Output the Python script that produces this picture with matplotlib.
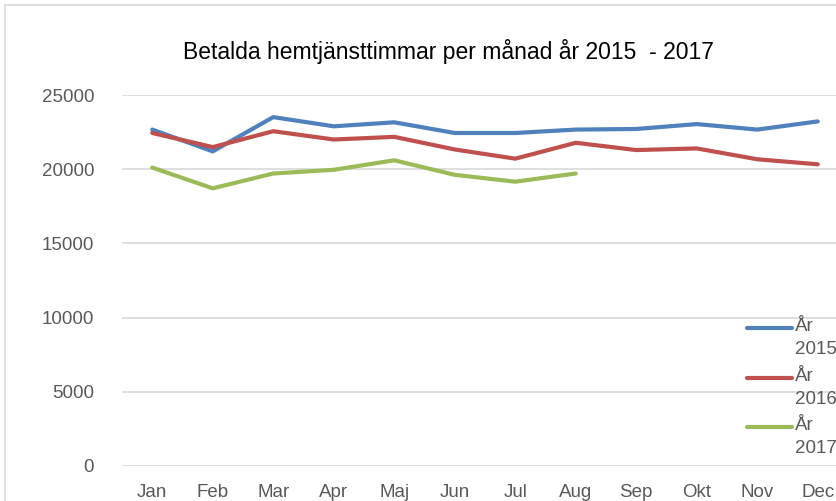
import matplotlib.pyplot as plt
from matplotlib.lines import Line2D
from matplotlib.patches import Rectangle

months = ['Jan', 'Feb', 'Mar', 'Apr', 'Maj', 'Jun', 'Jul', 'Aug', 'Sep', 'Okt', 'Nov', 'Dec']
ar_2015 = [22670, 21200, 23510, 22890, 23160, 22440, 22440, 22670, 22710, 23040, 22670, 23220]
ar_2016 = [22440, 21490, 22560, 22000, 22180, 21330, 20710, 21780, 21290, 21400, 20670, 20330]
ar_2017 = [20110, 18710, 19710, 19960, 20600, 19620, 19160, 19710]
series_labels = ['År\n2015', 'År\n2016', 'År\n2017']
colors = ['#4F81BD', '#C0504D', '#9BBB59']
yticks = [0, 5000, 10000, 15000, 20000, 25000]

plt.rcParams['font.family'] = ['Liberation Sans', 'DejaVu Sans']

W, H = 836, 501
fig = plt.figure(figsize=(W / 100, H / 100), dpi=100)

# outer chart border (partly cut off on right/bottom)
fig.add_artist(Rectangle((5 / W, -0.1), 1.2, 1 - 5 / H + 0.1, transform=fig.transFigure,
                         fill=False, edgecolor='#D9D9D9', linewidth=1.2))

ax = fig.add_axes([122 / W, 1 - 466 / H, (848 - 122) / W, (466 - 95) / H])

x = list(range(len(months)))
for vals, c in zip([ar_2015, ar_2016, ar_2017], colors):
    ax.plot(x[:len(vals)], vals, color=c, linewidth=3.0, solid_capstyle='round',
            solid_joinstyle='round', zorder=3)

ax.set_xlim(-0.5, 11.5)
ax.set_ylim(0, 25000)
ax.set_xticks(x)
ax.set_xticklabels(months)
ax.set_yticks(yticks)
ax.set_yticklabels([str(v) for v in yticks])
ax.tick_params(length=0, colors='#595959', labelsize=13.5)
ax.tick_params(axis='y', pad=20)
ax.tick_params(axis='x', pad=13)
ax.grid(axis='y', color='#D9D9D9', linewidth=1.2)
ax.set_axisbelow(True)
for s in ax.spines.values():
    s.set_visible(False)

fig.text(448 / W, 1 - 52 / H, 'Betalda hemtjänsttimmar per månad år 2015  - 2017',
         ha='center', va='center', fontsize=16.5, color='black')

# legend on the right, cut by the figure edge like the original
leg_y = [328, 378, 427]
for ly, lab, c in zip(leg_y, series_labels, colors):
    fig.add_artist(Line2D([747 / W, 792 / W], [1 - ly / H, 1 - ly / H], transform=fig.transFigure,
                          color=c, linewidth=3.0, solid_capstyle='round'))
    fig.text(795 / W, 1 - (ly - 10) / H, lab, ha='left', va='top', fontsize=13.5,
             color='#595959', linespacing=1.45)

fig.savefig('out.png', dpi=100)
